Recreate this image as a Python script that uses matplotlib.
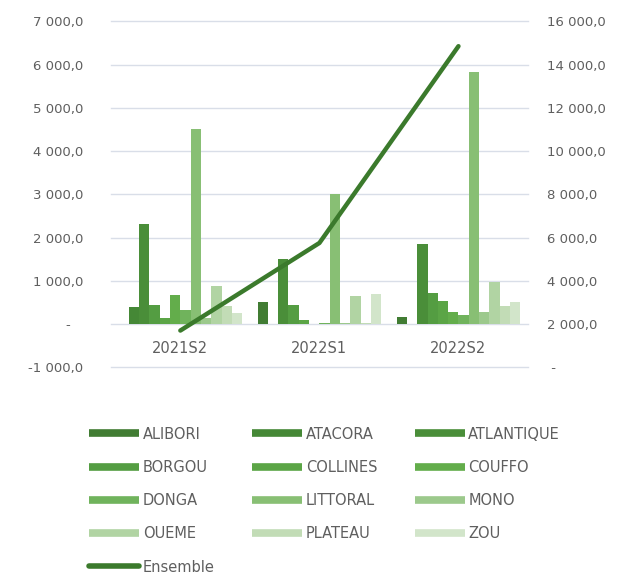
import numpy as np
import matplotlib
matplotlib.use('Agg')
import matplotlib.pyplot as plt
from matplotlib.lines import Line2D
from matplotlib.ticker import FuncFormatter

# data
periods = ['2021S2', '2022S1', '2022S2']
regions = ['ALIBORI', 'ATACORA', 'ATLANTIQUE', 'BORGOU', 'COLLINES', 'COUFFO',
           'DONGA', 'LITTORAL', 'MONO', 'OUEME', 'PLATEAU', 'ZOU']
alibori = [0, 510, 160]
atacora = [390, 0, 0]
atlantique = [2320, 1500, 1850]
borgou = [430, 430, 710]
collines = [145, 100, 530]
couffo = [680, 0, 270]
donga = [320, 20, 220]
littoral = [4520, 3000, 5820]
mono = [140, 20, 270]
oueme = [880, 650, 980]
plateau = [420, 20, 420]
zou = [245, 700, 500]
ensemble = [1700, 5750, 14850]

region_values = [alibori, atacora, atlantique, borgou, collines, couffo,
                 donga, littoral, mono, oueme, plateau, zou]
colors = ['#417c33', '#458836', '#4a8e39', '#549d42', '#5ba546', '#63ad4b',
          '#70b35c', '#88bf74', '#9cc98c', '#b1d4a3', '#c2dcb6', '#d2e5ca']
line_color = '#3b7a2c'
text_color = '#5f5f5f'
grid_color = '#d9dee8'

fig = plt.figure(figsize=(6.19, 5.76), dpi=100)
ax = fig.add_axes([0.179, 0.3623, 0.674, 0.6007])

x = np.arange(len(periods))
w = 0.89 / len(regions)
for i, vals in enumerate(region_values):
    ax.bar(x + (i - 5.5) * w, vals, width=w, color=colors[i], zorder=2)

ax.set_xlim(-0.5, 2.5)
ax.set_ylim(-1000, 7000)
ax.set_yticks(np.arange(-1000, 7001, 1000))
ax.grid(axis='y', color=grid_color, lw=1, zorder=0)
ax.set_axisbelow(True)
for gl in ax.yaxis.get_gridlines():
    gl.set_clip_on(False)


def fmt_left(v, pos):
    if v == 0:
        return '-   '
    s = '{:,.1f}'.format(v).replace(',', ' ').replace('.', ',')
    return s


ax.yaxis.set_major_formatter(FuncFormatter(fmt_left))
for s in ax.spines.values():
    s.set_visible(False)
ax.spines['bottom'].set_position(('data', 0))
ax.set_xticks(x)
ax.set_xticklabels(periods)
ax.tick_params(axis='x', length=0, pad=12, labelsize=10.5, labelcolor=text_color)
ax.tick_params(axis='y', length=0, pad=20, labelsize=9.5, labelcolor=text_color)

ax2 = ax.twinx()
ax2.plot(x, ensemble, color=line_color, lw=3.2, solid_capstyle='round', zorder=3)
ax2.set_ylim(0, 16000)
ax2.set_yticks(np.arange(0, 16001, 2000))


def fmt_right(v, pos):
    if v == 0:
        return ' -'
    return '{:,.1f}'.format(v).replace(',', ' ').replace('.', ',')


ax2.yaxis.set_major_formatter(FuncFormatter(fmt_right))
for s in ax2.spines.values():
    s.set_visible(False)
ax2.tick_params(axis='y', length=0, pad=14, labelsize=9.5, labelcolor=text_color)

# legend, filled column by column so it reads row-wise like the original
order = [0, 3, 6, 9, 'line', 1, 4, 7, 10, 2, 5, 8, 11]
handles = []
labels = []
for o in order:
    if o == 'line':
        handles.append(Line2D([], [], color=line_color, lw=4, solid_capstyle='round'))
        labels.append('Ensemble')
    else:
        handles.append(Line2D([], [], color=colors[o], lw=5.5, solid_capstyle='butt'))
        labels.append(regions[o])

leg = fig.legend(handles, labels, ncol=3, loc='upper left',
                 bbox_to_anchor=(0.135, 0.2695), frameon=False,
                 fontsize=10.5, handlelength=3.4, handletextpad=0.25,
                 columnspacing=2.6, labelspacing=1.25, borderaxespad=0)
for t in leg.get_texts():
    t.set_color(text_color)

fig.savefig('out.png', dpi=100)
